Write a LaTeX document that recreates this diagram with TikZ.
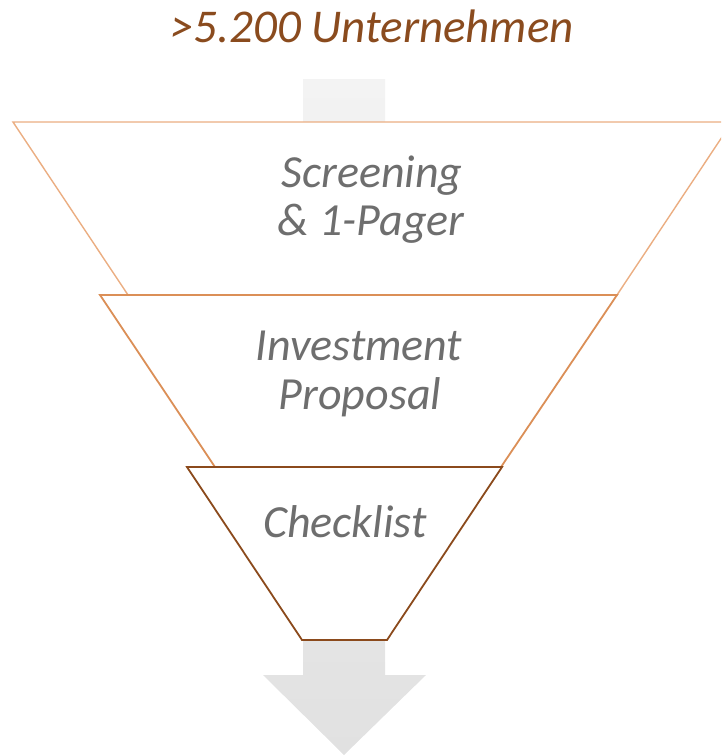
\documentclass[tikz,border=0pt]{standalone}
\usepackage{fontspec}
\setmainfont{Carlito}
\begin{document}
\begin{tikzpicture}[x=1pt,y=-1pt,
  stage/.style={fill=white,line join=miter},
  lbl/.style={anchor=base,inner sep=0pt,text=labelgray,
    font=\fontsize{46}{49}\selectfont\itshape},
]
\definecolor{labelgray}{HTML}{6E6E6E}
\definecolor{titlebrown}{HTML}{8A4B1E}
\definecolor{edgeA}{HTML}{EBAE82}
\definecolor{edgeB}{HTML}{DB8F57}
\definecolor{edgeC}{HTML}{8B4A1C}
\definecolor{arrowtop}{HTML}{F3F3F3}
\definecolor{arrowbot}{HTML}{E1E1E1}
\useasboundingbox (0,0) rectangle (721,755);
\clip (0,0) rectangle (721,755);

% flow arrow behind the funnel
\shade[top color=arrowtop,bottom color=arrowbot]
  (303,79) -- (385,79) -- (385,675) -- (426,675) -- (344,755)
  -- (263,675) -- (303,675) -- cycle;

% funnel stages, widest first
\draw[stage,draw=edgeA,line width=1.4pt]
  (13,122) -- (732,122) -- (617,295) -- (128,295) -- cycle;
\draw[stage,draw=edgeB,line width=1.8pt]
  (100,295) -- (617,295) -- (501,467) -- (215,467) -- cycle;
\draw[stage,draw=edgeC,line width=1.8pt]
  (187,467) -- (502,467) -- (387,640) -- (302,640) -- cycle;

% labels
\node[lbl,text=titlebrown,font=\fontsize{47}{49}\selectfont\itshape] (title) at (372,42) {>5.200 Unternehmen};
\node[lbl] (scrA) at (372,187) {Screening};
\node[lbl] (scrB) at (371,235) {\& 1-Pager};
\node[lbl] (invA) at (359,360) {Investment};
\node[lbl] (invB) at (360,409) {Proposal};
\node[lbl] (chk) at (345,537) {Checklist};
\end{tikzpicture}
\end{document}
